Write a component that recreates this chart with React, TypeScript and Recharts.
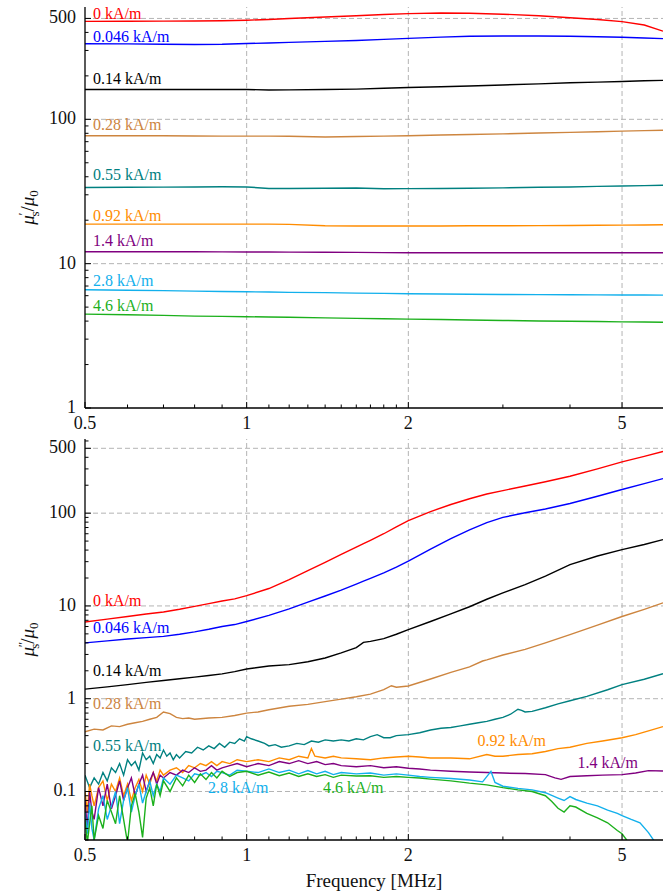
import React from 'react';
import { LineChart, Line, XAxis, YAxis, ReferenceLine, ReferenceDot } from 'recharts';

const FONT = '"Liberation Serif", "Times New Roman", serif';

// ---------- axis ticks ----------
const xTicks = [0.5, 0.6, 0.7, 0.8, 0.9, 1, 1.1, 1.2, 1.3, 1.4, 1.5, 1.6, 1.7, 1.8, 1.9, 2, 3, 4, 5];
const xMajor = [0.5, 1, 2, 5];
const yTicksTop = [1, 2, 3, 4, 5, 6, 7, 8, 9, 10, 20, 30, 40, 50, 60, 70, 80, 90, 100, 200, 300, 400, 500];
const yMajorTop = [1, 10, 100, 500];
const yTicksBot = [0.03, 0.04, 0.05, 0.06, 0.07, 0.08, 0.09, 0.1, 0.2, 0.3, 0.4, 0.5, 0.6, 0.7, 0.8, 0.9, 1, 2, 3, 4, 5, 6, 7, 8, 9, 10, 20, 30, 40, 50, 60, 70, 80, 90, 100, 200, 300, 400, 500, 600];
const yMajorBot = [0.1, 1, 10, 100, 500];
const xGrid = [1, 2, 5];
const yGridTop = [10, 100, 500];
const yGridBot = [0.1, 1, 10, 100, 500];

// ---------- series names / colours ----------
const names = ['0 kA/m', '0.046 kA/m', '0.14 kA/m', '0.28 kA/m', '0.55 kA/m', '0.92 kA/m', '1.4 kA/m', '2.8 kA/m', '4.6 kA/m'];
const colors = ['#ff0000', '#0000ff', '#000000', '#cd853f', '#008080', '#ff8c00', '#800080', '#12b0ec', '#1cb01c'];

// ---------- top panel: mu'_s / mu_0 ----------
const fTop = [0.5, 0.6, 0.7, 0.8, 0.9, 1.0, 1.1, 1.2, 1.4, 1.6, 1.8, 2.0, 2.3, 2.6, 3.0, 3.5, 4.0, 4.5, 5.0, 5.5, 5.96];
const top0 = [477, 478, 479, 480, 482, 486, 492, 500, 512, 522, 532, 540, 545, 543, 535, 522, 506, 492, 475, 450, 408];
const top046 = [334, 333, 331, 330, 331, 335, 338, 341, 347, 352, 358, 364, 371, 376, 378, 378, 376, 373, 370, 366, 362];
const top014 = [161, 161, 161, 161, 161, 161, 159.5, 160, 161, 162, 164, 166, 168, 170, 173, 176, 179, 181, 183, 185, 186];
const top028 = [77, 77, 77, 76.6, 76.5, 76.5, 76.5, 76.3, 75.5, 76, 76.5, 77, 77.8, 78.5, 79.3, 80.3, 81.2, 82, 82.8, 83.5, 84];
const top055 = [33.7, 33.8, 33.9, 34.0, 34.1, 34.0, 33.2, 33.2, 33.3, 33.4, 33.0, 33.1, 33.2, 33.3, 33.5, 33.8, 34.0, 34.3, 34.5, 34.7, 34.9];
const top092 = [18.8, 18.8, 18.8, 18.8, 18.8, 18.8, 18.8, 18.7, 18.3, 18.25, 18.25, 18.25, 18.25, 18.3, 18.3, 18.35, 18.4, 18.45, 18.5, 18.55, 18.6];
const top14 = [12.1, 12.1, 12.1, 12.08, 12.06, 12.05, 12.03, 12.02, 12.0, 11.97, 11.93, 11.9, 11.9, 11.9, 11.9, 11.9, 11.9, 11.9, 11.9, 11.9, 11.9];
const top28 = [6.6, 6.55, 6.5, 6.45, 6.42, 6.39, 6.36, 6.33, 6.3, 6.25, 6.22, 6.19, 6.16, 6.14, 6.12, 6.1, 6.09, 6.08, 6.07, 6.06, 6.05];
const top46 = [4.47, 4.43, 4.38, 4.33, 4.31, 4.29, 4.27, 4.25, 4.21, 4.18, 4.15, 4.13, 4.1, 4.07, 4.04, 4.01, 3.99, 3.97, 3.95, 3.94, 3.93];

// ---------- bottom panel: mu''_s / mu_0 ----------
const fBot = [0.5, 0.55, 0.6, 0.65, 0.7, 0.75, 0.8, 0.85, 0.9, 0.95, 1.0, 1.1, 1.2, 1.3, 1.4, 1.5, 1.6, 1.65, 1.7, 1.8, 1.9, 2.0, 2.2, 2.4, 2.6, 2.8, 3.0, 3.3, 3.6, 4.0, 4.5, 5.0, 5.5, 5.96];
const bot0 = [6.7, 7.2, 7.7, 8.2, 8.6, 9.2, 9.9, 10.6, 11.3, 11.9, 12.9, 15.4, 19.2, 24, 29.5, 36, 43, 47, 51, 60, 71, 83, 104, 124, 143, 161, 175, 196, 218, 250, 300, 357, 410, 462];
const bot046 = [4.0, 4.2, 4.4, 4.55, 4.7, 4.95, 5.25, 5.6, 6.0, 6.3, 6.8, 7.9, 9.3, 11.0, 12.8, 14.8, 17.2, 18.5, 19.8, 22.7, 26.2, 30.5, 41, 53, 66, 79, 90, 101, 111, 127, 152, 180, 208, 236];
const bot014 = [1.27, 1.34, 1.42, 1.5, 1.57, 1.64, 1.71, 1.78, 1.85, 1.96, 2.09, 2.25, 2.33, 2.5, 2.75, 3.12, 3.55, 4.05, 4.15, 4.45, 4.95, 5.55, 6.8, 8.2, 9.8, 11.8, 13.8, 17, 21, 27.9, 34.5, 40.5, 46, 51.9];

const f028 = [0.5, 0.52, 0.54, 0.56, 0.58, 0.6, 0.62, 0.64, 0.66, 0.68, 0.7, 0.72, 0.74, 0.76, 0.78, 0.8, 0.85, 0.9, 0.95, 1.0, 1.05, 1.1, 1.2, 1.3, 1.4, 1.5, 1.6, 1.7, 1.8, 1.86, 1.9, 2.0, 2.2, 2.4, 2.6, 2.75, 2.8, 3.0, 3.3, 3.6, 4.0, 4.5, 5.0, 5.5, 5.96];
const bot028 = [0.44, 0.47, 0.46, 0.51, 0.5, 0.53, 0.55, 0.57, 0.6, 0.63, 0.72, 0.69, 0.63, 0.61, 0.62, 0.6, 0.62, 0.63, 0.66, 0.7, 0.72, 0.76, 0.83, 0.87, 0.93, 0.99, 1.05, 1.12, 1.25, 1.38, 1.33, 1.37, 1.63, 1.92, 2.2, 2.55, 2.62, 2.96, 3.4, 4.0, 4.9, 6.2, 7.7, 9.2, 10.8];

const f055 = [0.5, 0.51, 0.52, 0.53, 0.54, 0.55, 0.56, 0.57, 0.58, 0.59, 0.6, 0.61, 0.62, 0.63, 0.64, 0.65, 0.66, 0.67, 0.68, 0.69, 0.7, 0.71, 0.72, 0.73, 0.74, 0.75, 0.77, 0.79, 0.81, 0.83, 0.85, 0.87, 0.89, 0.91, 0.93, 0.95, 0.97, 0.99, 1.0, 1.02, 1.05, 1.08, 1.1, 1.13, 1.16, 1.2, 1.24, 1.28, 1.32, 1.36, 1.4, 1.45, 1.5, 1.55, 1.6, 1.65, 1.7, 1.75, 1.8, 1.85, 1.9, 2.0, 2.1, 2.2, 2.3, 2.4, 2.5, 2.6, 2.7, 2.8, 2.9, 3.0, 3.1, 3.2, 3.25, 3.3, 3.4, 3.6, 3.8, 4.0, 4.3, 4.7, 5.0, 5.5, 5.96];
const bot055 = [0.15, 0.11, 0.14, 0.12, 0.16, 0.13, 0.18, 0.16, 0.2, 0.15, 0.22, 0.19, 0.21, 0.17, 0.26, 0.22, 0.24, 0.2, 0.25, 0.23, 0.28, 0.24, 0.26, 0.22, 0.25, 0.23, 0.27, 0.26, 0.3, 0.28, 0.31, 0.29, 0.33, 0.3, 0.34, 0.33, 0.37, 0.35, 0.39, 0.37, 0.35, 0.33, 0.31, 0.32, 0.3, 0.31, 0.33, 0.32, 0.35, 0.34, 0.36, 0.35, 0.36, 0.35, 0.37, 0.36, 0.39, 0.41, 0.38, 0.38, 0.4, 0.41, 0.43, 0.46, 0.48, 0.49, 0.51, 0.53, 0.55, 0.57, 0.6, 0.63, 0.68, 0.77, 0.75, 0.72, 0.73, 0.8, 0.88, 0.95, 1.06, 1.25, 1.42, 1.62, 1.86];

const f092 = [0.5, 0.505, 0.51, 0.515, 0.52, 0.53, 0.54, 0.55, 0.56, 0.57, 0.58, 0.59, 0.6, 0.61, 0.62, 0.63, 0.64, 0.65, 0.66, 0.67, 0.68, 0.69, 0.7, 0.72, 0.74, 0.76, 0.78, 0.8, 0.82, 0.84, 0.86, 0.88, 0.9, 0.93, 0.96, 1.0, 1.05, 1.1, 1.15, 1.2, 1.25, 1.3, 1.32, 1.34, 1.4, 1.45, 1.5, 1.6, 1.7, 1.8, 1.9, 2.0, 2.1, 2.2, 2.4, 2.6, 2.8, 2.9, 3.0, 3.2, 3.4, 3.6, 3.8, 4.0, 4.3, 4.6, 5.0, 5.3, 5.6, 5.96];
const bot092 = [0.1, 0.06, 0.12, 0.09, 0.07, 0.11, 0.13, 0.08, 0.12, 0.1, 0.14, 0.09, 0.12, 0.08, 0.11, 0.135, 0.1, 0.15, 0.12, 0.16, 0.13, 0.17, 0.15, 0.17, 0.18, 0.16, 0.19, 0.18, 0.2, 0.19, 0.21, 0.19, 0.21, 0.2, 0.22, 0.21, 0.22, 0.21, 0.23, 0.22, 0.24, 0.23, 0.29, 0.24, 0.23, 0.24, 0.23, 0.225, 0.22, 0.23, 0.235, 0.24, 0.235, 0.23, 0.23, 0.225, 0.25, 0.24, 0.24, 0.25, 0.255, 0.27, 0.29, 0.3, 0.33, 0.35, 0.38, 0.41, 0.45, 0.5];

const f14 = [0.5, 0.505, 0.51, 0.515, 0.52, 0.53, 0.54, 0.55, 0.56, 0.57, 0.58, 0.59, 0.6, 0.61, 0.62, 0.63, 0.64, 0.65, 0.66, 0.67, 0.68, 0.69, 0.7, 0.72, 0.74, 0.76, 0.78, 0.8, 0.82, 0.84, 0.86, 0.88, 0.9, 0.93, 0.96, 1.0, 1.05, 1.1, 1.15, 1.2, 1.25, 1.3, 1.35, 1.4, 1.45, 1.5, 1.6, 1.7, 1.8, 1.9, 2.0, 2.1, 2.2, 2.4, 2.6, 2.8, 3.0, 3.3, 3.6, 3.75, 3.85, 4.0, 4.3, 4.6, 5.0, 5.3, 5.6, 5.96];
const bot14 = [0.08, 0.04, 0.1, 0.06, 0.05, 0.11, 0.07, 0.12, 0.065, 0.09, 0.13, 0.08, 0.11, 0.14, 0.09, 0.12, 0.15, 0.1, 0.13, 0.16, 0.12, 0.15, 0.14, 0.16, 0.15, 0.17, 0.16, 0.18, 0.165, 0.17, 0.19, 0.17, 0.18, 0.19, 0.2, 0.185, 0.2, 0.19, 0.21, 0.2, 0.215, 0.2, 0.21, 0.195, 0.2, 0.19, 0.185, 0.19, 0.18, 0.185, 0.178, 0.175, 0.17, 0.165, 0.162, 0.16, 0.158, 0.156, 0.152, 0.14, 0.135, 0.145, 0.148, 0.15, 0.152, 0.158, 0.168, 0.166];

const f28 = [0.5, 0.505, 0.51, 0.515, 0.52, 0.53, 0.54, 0.55, 0.56, 0.57, 0.58, 0.59, 0.6, 0.61, 0.62, 0.63, 0.64, 0.65, 0.66, 0.67, 0.68, 0.69, 0.7, 0.72, 0.74, 0.76, 0.78, 0.8, 0.82, 0.84, 0.86, 0.88, 0.9, 0.93, 0.96, 1.0, 1.05, 1.1, 1.15, 1.2, 1.25, 1.3, 1.35, 1.4, 1.45, 1.5, 1.6, 1.7, 1.8, 1.9, 2.0, 2.1, 2.2, 2.4, 2.6, 2.75, 2.85, 2.9, 3.0, 3.2, 3.4, 3.6, 3.8, 3.9, 4.0, 4.1, 4.3, 4.5, 4.7, 4.9, 5.0, 5.2, 5.4, 5.6, 5.7, 5.8, 5.96];
const bot28 = [0.06, 0.035, 0.075, 0.04, 0.03, 0.065, 0.09, 0.05, 0.07, 0.1, 0.045, 0.08, 0.11, 0.06, 0.09, 0.12, 0.075, 0.1, 0.13, 0.09, 0.12, 0.1, 0.14, 0.12, 0.15, 0.14, 0.13, 0.155, 0.15, 0.16, 0.145, 0.165, 0.16, 0.15, 0.17, 0.165, 0.16, 0.175, 0.16, 0.17, 0.155, 0.168, 0.155, 0.165, 0.152, 0.16, 0.155, 0.158, 0.15, 0.155, 0.15, 0.145, 0.142, 0.138, 0.133, 0.127, 0.165, 0.125, 0.114, 0.108, 0.104, 0.097, 0.085, 0.08, 0.088, 0.082, 0.075, 0.07, 0.063, 0.058, 0.055, 0.05, 0.046, 0.036, 0.031, 0.027, 0.024];

const f46 = [0.5, 0.505, 0.51, 0.515, 0.52, 0.53, 0.54, 0.55, 0.56, 0.57, 0.58, 0.59, 0.6, 0.61, 0.62, 0.63, 0.64, 0.65, 0.66, 0.67, 0.68, 0.69, 0.7, 0.72, 0.74, 0.76, 0.78, 0.8, 0.82, 0.84, 0.86, 0.88, 0.9, 0.93, 0.96, 1.0, 1.05, 1.1, 1.15, 1.2, 1.25, 1.3, 1.35, 1.4, 1.45, 1.5, 1.6, 1.7, 1.8, 1.9, 2.0, 2.1, 2.2, 2.4, 2.6, 2.8, 3.0, 3.2, 3.4, 3.6, 3.7, 3.8, 3.9, 4.0, 4.1, 4.3, 4.5, 4.7, 4.9, 5.0, 5.1, 5.2, 5.4];
const bot46 = [0.05, 0.028, 0.045, 0.07, 0.03, 0.055, 0.04, 0.08, 0.06, 0.045, 0.09, 0.05, 0.028, 0.07, 0.095, 0.06, 0.032, 0.085, 0.11, 0.07, 0.12, 0.09, 0.13, 0.1, 0.14, 0.115, 0.15, 0.125, 0.155, 0.135, 0.16, 0.14, 0.165, 0.145, 0.16, 0.165, 0.15, 0.162, 0.148, 0.158, 0.145, 0.155, 0.145, 0.152, 0.142, 0.15, 0.147, 0.148, 0.142, 0.145, 0.142, 0.14, 0.136, 0.13, 0.123, 0.118, 0.11, 0.104, 0.1, 0.09, 0.078, 0.066, 0.06, 0.07, 0.068, 0.058, 0.052, 0.046, 0.038, 0.035, 0.03, 0.027, 0.024];

// ---------- curve labels (data coordinates) ----------
const labTopF = [0.5175, 0.5175, 0.5175, 0.5175, 0.5175, 0.5175, 0.5175, 0.5175, 0.5175];
const labTopV = [496, 341, 175, 84.8, 37.8, 19.8, 13.3, 7.0, 4.69];
const labBotF = [0.5175, 0.5175, 0.5175, 0.5175, 0.5175, 2.69, 4.13, 0.847, 1.387];
const labBotV = [10.1, 5.15, 1.77, 0.77, 0.275, 0.311, 0.18, 0.0957, 0.0957];

const pts = (f: number[], v: number[]) => f.map((x, i) => ({ f: x, v: v[i] }));

const topSeries = [top0, top046, top014, top028, top055, top092, top14, top28, top46].map((v) => pts(fTop, v));
const botSeries = [
  pts(fBot, bot0),
  pts(fBot, bot046),
  pts(fBot, bot014),
  pts(f028, bot028),
  pts(f055, bot055),
  pts(f092, bot092),
  pts(f14, bot14),
  pts(f28, bot28),
  pts(f46, bot46),
];

const isIn = (arr: number[], v: number) => arr.some((m) => Math.abs(m - v) < 1e-9);

const makeXTick = (side: 'bottom' | 'top', showLabel: boolean) => (props: any) => {
  const { x, y, payload } = props;
  const v = payload.value;
  const major = isIn(xMajor, v);
  const len = major ? 6 : 3.5;
  const dir = side === 'bottom' ? -1 : 1;
  return (
    <g>
      <line x1={x} y1={y} x2={x} y2={y + dir * len} stroke="#000" strokeWidth={1} />
      {showLabel && major ? (
        <text x={x} y={y + 21} textAnchor="middle" fontSize={18} fontFamily={FONT} fill="#111">
          {String(v)}
        </text>
      ) : null}
    </g>
  );
};

const makeYTick = (side: 'left' | 'right', majors: number[]) => (props: any) => {
  const { x, y, payload } = props;
  const v = payload.value;
  const major = isIn(majors, v);
  const len = major ? 6 : 3.5;
  const dir = side === 'left' ? 1 : -1;
  return (
    <g>
      <line x1={x} y1={y} x2={x + dir * len} y2={y} stroke="#000" strokeWidth={1} />
      {side === 'left' && major ? (
        <text x={x - 9} y={y + 5} textAnchor="end" fontSize={18} fontFamily={FONT} fill="#111">
          {String(v)}
        </text>
      ) : null}
    </g>
  );
};

const YTitle = ({ cy, primes }: { cy: number; primes: string }) => (
  <text
    x={34}
    y={cy}
    transform={`rotate(-90, 34, ${cy})`}
    textAnchor="middle"
    fontSize={19}
    fontFamily={FONT}
    fill="#111"
  >
    <tspan fontStyle="italic">μ</tspan>
    <tspan dy={-7} fontSize={12}>{primes}</tspan>
    <tspan dy={12} dx={primes.length > 1 ? -7 : -4} fontSize={13}>s</tspan>
    <tspan dy={-5}>/</tspan>
    <tspan fontStyle="italic">μ</tspan>
    <tspan dy={4} fontSize={13}>0</tspan>
  </text>
);

const axisLineStyle = { stroke: '#000', strokeWidth: 1.3 };

function Panel(props: {
  height: number;
  marginTop: number;
  xAxisHeight: number;
  yDomain: [number, number];
  yTicks: number[];
  yMajor: number[];
  yGrid: number[];
  series: { f: number; v: number }[][];
  labF: number[];
  labV: number[];
  primes: string;
  showXTitle: boolean;
}) {
  const { height, marginTop, xAxisHeight, yDomain, yTicks, yMajor, yGrid, series, labF, labV, primes, showXTitle } = props;
  const plotH = height - marginTop - xAxisHeight;
  return (
    <LineChart width={667} height={height} margin={{ top: marginTop, right: 4, bottom: 0, left: 0 }}>
      <XAxis
        xAxisId="x"
        dataKey="f"
        type="number"
        scale="log"
        domain={[0.5, 5.96]}
        allowDataOverflow
        ticks={xTicks}
        interval={0}
        tickSize={0}
        tickMargin={0}
        tickLine={false}
        axisLine={axisLineStyle}
        tick={makeXTick('bottom', true)}
        height={xAxisHeight}
        orientation="bottom"
        label={
          showXTitle
            ? (lp: any) => (
                <text x={374} y={marginTop + plotH + 47} textAnchor="middle" fontSize={19} fontFamily={FONT} fill="#111">
                  Frequency [MHz]
                </text>
              )
            : undefined
        }
      />
      <XAxis
        xAxisId="xt"
        dataKey="f"
        type="number"
        scale="log"
        domain={[0.5, 5.96]}
        allowDataOverflow
        ticks={xTicks}
        interval={0}
        tickSize={0}
        tickMargin={0}
        tickLine={false}
        axisLine={axisLineStyle}
        tick={makeXTick('top', false)}
        height={0}
        orientation="top"
      />
      <YAxis
        yAxisId="y"
        type="number"
        scale="log"
        domain={yDomain}
        allowDataOverflow
        ticks={yTicks}
        interval={0}
        tickSize={0}
        tickMargin={0}
        tickLine={false}
        axisLine={axisLineStyle}
        tick={makeYTick('left', yMajor)}
        width={85}
        orientation="left"
        label={() => <YTitle cy={marginTop + plotH / 2} primes={primes} />}
      />
      <YAxis
        yAxisId="yr"
        type="number"
        scale="log"
        domain={yDomain}
        allowDataOverflow
        ticks={yTicks}
        interval={0}
        tickSize={0}
        tickMargin={0}
        tickLine={false}
        axisLine={axisLineStyle}
        tick={makeYTick('right', yMajor)}
        width={0}
        orientation="right"
      />
      {xGrid.map((g) => (
        <ReferenceLine key={'gx' + g} x={g} xAxisId="x" yAxisId="y" stroke="#b4b4b4" strokeWidth={1} strokeDasharray="5 3" />
      ))}
      {yGrid.map((g) => (
        <ReferenceLine key={'gy' + g} y={g} xAxisId="x" yAxisId="y" stroke="#b4b4b4" strokeWidth={1} strokeDasharray="5 3" />
      ))}
      {series.map((d, i) => (
        <Line
          key={names[i]}
          data={d}
          dataKey="v"
          xAxisId="x"
          yAxisId="y"
          type="linear"
          stroke={colors[i]}
          strokeWidth={1.4}
          dot={false}
          activeDot={false}
          isAnimationActive={false}
        />
      ))}
      {names.map((n, i) => (
        <ReferenceDot
          key={'lab' + n}
          x={labF[i]}
          y={labV[i]}
          xAxisId="x"
          yAxisId="y"
          r={0}
          ifOverflow="visible"
          shape={(p: any) => (
            <text x={p.cx} y={p.cy} fill={colors[i]} fontSize={16} fontFamily={FONT}>
              {n}
            </text>
          )}
        />
      ))}
    </LineChart>
  );
}

export default function App() {
  return (
    <div style={{ position: 'absolute', left: 0, top: 0, width: 667, height: 895, background: '#fff' }}>
      <div style={{ position: 'absolute', left: 0, top: 0 }}>
        <Panel
          height={436}
          marginTop={7}
          xAxisHeight={28}
          yDomain={[1, 600]}
          yTicks={yTicksTop}
          yMajor={yMajorTop}
          yGrid={yGridTop}
          series={topSeries}
          labF={labTopF}
          labV={labTopV}
          primes="′"
          showXTitle={false}
        />
      </div>
      <div style={{ position: 'absolute', left: 0, top: 436 }}>
        <Panel
          height={459}
          marginTop={3}
          xAxisHeight={55}
          yDomain={[0.03, 630]}
          yTicks={yTicksBot}
          yMajor={yMajorBot}
          yGrid={yGridBot}
          series={botSeries}
          labF={labBotF}
          labV={labBotV}
          primes="′′"
          showXTitle={true}
        />
      </div>
    </div>
  );
}
